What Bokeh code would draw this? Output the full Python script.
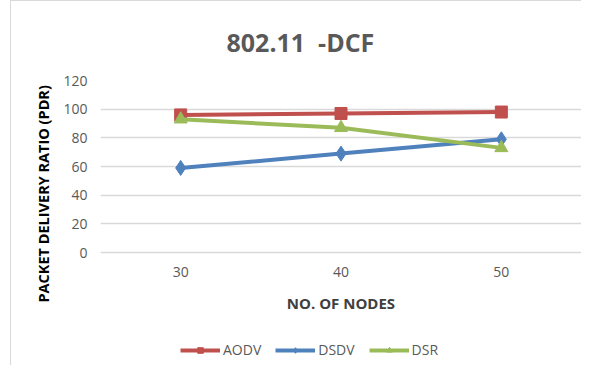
from bokeh.plotting import figure
from bokeh.models import (ColumnDataSource, Range1d, FactorRange, Legend, LegendItem, Title)
from bokeh.embed import file_html
from bokeh.resources import INLINE

nodes = ["30", "40", "50"]
aodv = [96, 97, 98]
dsdv = [59, 69, 79]
dsr = [93, 87, 73]
y_ticks = [0, 20, 40, 60, 80, 100, 120]

FONT = "Open Sans"
GRAY = "#595959"

p = figure(frame_width=481, frame_height=285, output_backend="svg", toolbar_location=None,
           x_range=FactorRange(factors=nodes), y_range=Range1d(-78.8, 120),
           min_border_left=89, min_border_right=0, min_border_top=73, min_border_bottom=0,
           styles={"margin-left": "10px",
                   "border-left": "1px solid #d9d9d9", "border-top": "1px solid #d9d9d9"})
p.outline_line_color = None
p.background_fill_color = "white"
p.border_fill_color = "white"

p.title.text = "802.11\u00a0\u00a0-DCF"
p.title.text_font = FONT
p.title.text_font_size = "25px"
p.title.text_font_style = "bold"
p.title.text_color = GRAY
p.title.align = "left"
p.title.offset = 126
p.title.standoff = 43

# axes
p.yaxis.ticker = y_ticks
p.yaxis.axis_line_color = None
p.yaxis.major_tick_line_color = None
p.yaxis.minor_tick_line_color = None
p.yaxis.major_tick_out = 0
p.yaxis.major_label_standoff = 13
p.yaxis.major_label_text_font = FONT
p.yaxis.major_label_text_font_size = "14px"
p.yaxis.major_label_text_color = GRAY

p.xaxis.fixed_location = 0
p.xaxis.axis_line_color = None
p.xaxis.major_tick_line_color = None
p.xaxis.major_tick_out = 0
p.xaxis.major_label_standoff = 14
p.xaxis.major_label_text_font = FONT
p.xaxis.major_label_text_font_size = "14px"
p.xaxis.major_label_text_color = GRAY
p.xaxis.axis_label = "NO. OF NODES"
p.xaxis.axis_label_text_font = FONT
p.xaxis.axis_label_text_font_size = "15px"
p.xaxis.axis_label_text_font_style = "bold"
p.xaxis.axis_label_text_color = "#404040"
p.xaxis.axis_label_standoff = 13

p.xgrid.grid_line_color = None
p.ygrid.grid_line_color = "#d9d9d9"
p.ygrid.grid_line_width = 1.5

# y axis title as a side title so it can be shifted along the axis
ytitle = Title(text="PACKET DELIVERY RATIO (PDR)", align="left", offset=63,
               text_font=FONT, text_font_size="14.5px", text_font_style="bold",
               text_color="black", standoff=15)
p.add_layout(ytitle, "left")

src = ColumnDataSource(dict(x=nodes, aodv=aodv, dsdv=dsdv, dsr=dsr))

series = [("AODV", "aodv", "#C0504D", "square", 12),
          ("DSDV", "dsdv", "#4F81BD", "diamond", 15),
          ("DSR", "dsr", "#9BBB59", "triangle", 13)]
items = []
for name, col, color, marker, size in series:
    l = p.line("x", col, source=src, line_color=color, line_width=4)
    s = p.scatter("x", col, source=src, marker=marker, size=size,
                  fill_color=color, line_color=color)
    items.append(LegendItem(label=name, renderers=[l, s]))

legend = Legend(items=items, orientation="horizontal", location=(80, 6),
                label_text_font=FONT, label_text_font_size="14px",
                label_text_color=GRAY, glyph_width=40, glyph_height=14,
                spacing=14, padding=0, margin=0, border_line_color=None,
                background_fill_alpha=0, label_standoff=3)
p.add_layout(legend, "center")

open("out.html", "w").write(file_html(p, INLINE))
